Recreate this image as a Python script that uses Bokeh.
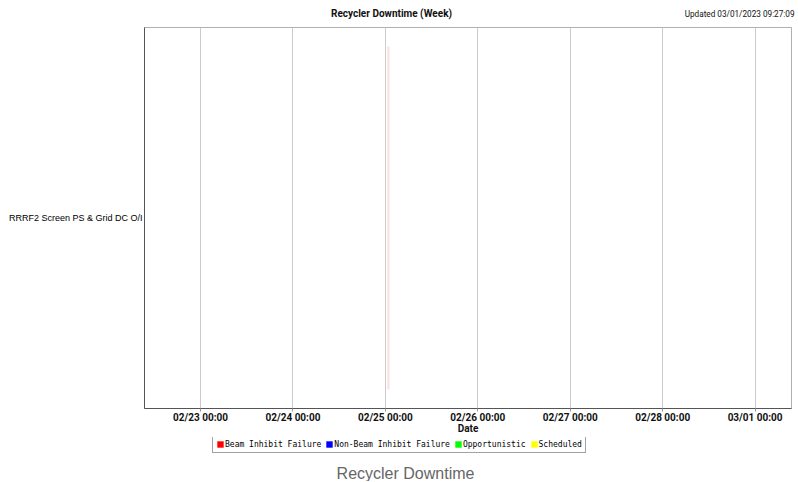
from datetime import datetime
from bokeh.plotting import figure
from bokeh.layouts import column
from bokeh.models import (ColumnDataSource, FactorRange, Range1d, DaysTicker,
                          DatetimeTickFormatter, Legend, LegendItem, Label)
from bokeh.embed import file_html
from bokeh.resources import INLINE

# ---- data ----
systems = ["RRRF2 Screen PS & Grid DC O/I"]
event_system = ["RRRF2 Screen PS & Grid DC O/I"]
event_start = [datetime(2023, 2, 25, 0, 30)]
event_end = [datetime(2023, 2, 25, 1, 5)]
event_type = ["Beam Inhibit Failure"]
downtime_types = ["Beam Inhibit Failure", "Non-Beam Inhibit Failure", "Opportunistic", "Scheduled"]
type_colors = ["#ff0000", "#0000ff", "#00ff00", "#ffff00"]
range_start = datetime(2023, 2, 22, 9, 27, 9)
range_end = datetime(2023, 3, 1, 9, 27, 9)
title_text = "Recycler Downtime (Week)"
updated_text = "Updated 03/01/2023 09:27:09"
caption_text = "Recycler Downtime"


def strip(height):
    f = figure(width=798, height=height, x_range=Range1d(0, 1), y_range=Range1d(0, 1),
               output_backend="svg", toolbar_location=None,
               x_axis_location=None, y_axis_location=None,
               min_border_left=0, min_border_right=0, min_border_top=0, min_border_bottom=0)
    f.frame_align = False
    f.grid.visible = False
    f.outline_line_color = None
    f.background_fill_color = "white"
    f.border_fill_color = "white"
    return f


# ---- header strip ----
top = strip(27)
top.add_layout(Label(x=391, y=14, x_units="screen", y_units="screen", text=title_text,
                     text_font="Roboto", text_font_style="bold", text_font_size="10px",
                     text_align="center", text_baseline="middle", text_color="#111111"))
top.add_layout(Label(x=794, y=14, x_units="screen", y_units="screen", text=updated_text,
                     text_font="Roboto", text_font_size="8.2px",
                     text_align="right", text_baseline="middle", text_color="#111111"))

# ---- main chart ----
p = figure(frame_width=647, frame_height=381, x_axis_type="datetime",
           y_range=FactorRange(factors=systems),
           x_range=Range1d(start=range_start, end=range_end),
           output_backend="svg", toolbar_location=None, title=None,
           min_border_left=144, min_border_right=7, min_border_top=0, min_border_bottom=29)
p.frame_align = False
p.background_fill_color = "white"
p.border_fill_color = "white"
p.outline_line_color = "#b0b0b0"

src = ColumnDataSource(dict(sys=event_system, start=event_start, end=event_end, kind=event_type))
p.hbar(y="sys", left="start", right="end", height=0.9, source=src,
       fill_color="#ff0000", fill_alpha=0.12, line_color=None)

p.xaxis.ticker = DaysTicker(days=list(range(1, 32)))
fmt = "%m/%d %H:%M"
p.xaxis.formatter = DatetimeTickFormatter(days=fmt, months=fmt, hours=fmt, years=fmt,
                                          minutes=fmt, hourmin=fmt)
p.xaxis.axis_label = "Date"
p.xaxis.axis_label_text_font = "Roboto"
p.xaxis.axis_label_text_font_style = "bold"
p.xaxis.axis_label_text_font_size = "10px"
p.xaxis.axis_label_text_color = "#111111"
p.xaxis.axis_label_standoff = -3
p.xaxis.major_label_text_font = "Roboto"
p.xaxis.major_label_text_font_style = "bold"
p.xaxis.major_label_text_font_size = "10px"
p.xaxis.major_label_text_color = "#111111"
p.xaxis.major_label_standoff = 0
p.xaxis.major_tick_out = 3
p.xaxis.major_tick_in = 0
p.xaxis.minor_tick_out = 0
p.xaxis.minor_tick_in = 0
p.xaxis.major_tick_line_color = "#999999"
p.xaxis.axis_line_color = "#555555"

p.yaxis.major_label_text_font = "Liberation Sans"
p.yaxis.major_label_text_font_size = "9px"
p.yaxis.major_label_text_color = "#000000"
p.yaxis.major_label_standoff = 2
p.yaxis.major_tick_out = 0
p.yaxis.major_tick_in = 0
p.yaxis.axis_line_color = "#555555"

p.xgrid.grid_line_color = "#cccccc"
p.ygrid.grid_line_color = None

# ---- legend + caption strip ----
q = strip(44)
nan = float("nan")
items = []
for t, c in zip(downtime_types, type_colors):
    s = ColumnDataSource(dict(y=[nan], left=[nan], right=[nan]))
    r = q.hbar(y="y", left="left", right="right", height=1, source=s,
               fill_color=c, line_color=None)
    items.append(LegendItem(label=t, renderers=[r]))

legend = Legend(items=items, orientation="horizontal", location=(212, 28),
                label_text_font="DejaVu Sans Mono", label_text_font_size="8px",
                label_text_color="#000000", label_height=10, label_standoff=1,
                glyph_width=8, glyph_height=8, spacing=4, padding=3, margin=0,
                border_line_color="#444444", border_line_width=1,
                background_fill_color="white", background_fill_alpha=1.0)
q.add_layout(legend)

q.add_layout(Label(x=405, y=8, x_units="screen", y_units="screen", text=caption_text,
                   text_font="Liberation Sans", text_font_size="16px",
                   text_align="center", text_baseline="middle", text_color="#666666"))

layout = column(top, p, q, spacing=0)
open("out.html", "w").write(file_html(layout, INLINE))
